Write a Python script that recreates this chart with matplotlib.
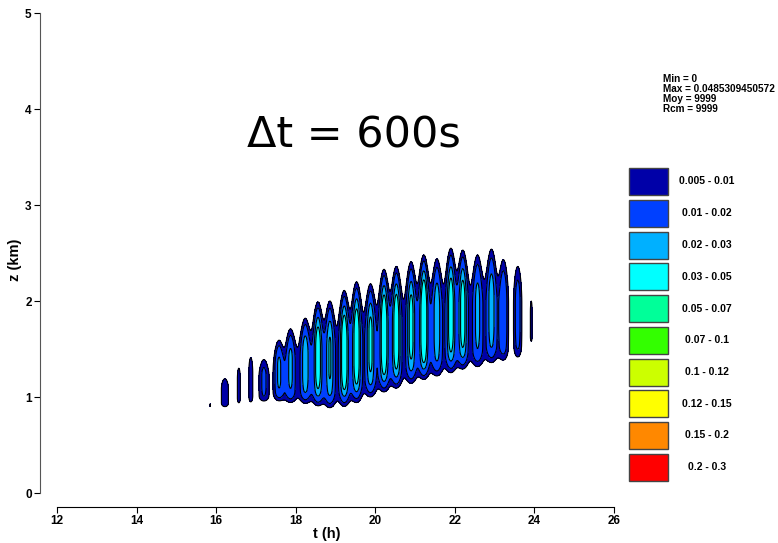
import numpy as np
import matplotlib
matplotlib.use('Agg')
import matplotlib.pyplot as plt
from matplotlib.patches import Rectangle

# Pulses: centre time (h), visible bottom / top of the
# column (km), narrow core peak, broad skirt level that joins the columns,
# and skirt half-width in time (h)
pulse_t = [15.85, 16.22, 16.57, 16.87, 17.20, 17.58, 17.87, 18.24, 18.56, 18.86,
           19.22, 19.53, 19.88, 20.22, 20.53, 20.90, 21.22, 21.55, 21.90, 22.20,
           22.57, 22.92, 23.22, 23.58, 23.92]
pulse_bot = [0.90, 0.90, 0.94, 0.95, 0.95, 0.95, 0.93, 0.92, 0.89, 0.87,
             0.88, 0.92, 0.98, 1.03, 1.07, 1.12, 1.16, 1.20, 1.23, 1.27,
             1.30, 1.34, 1.37, 1.40, 1.58]
pulse_top = [0.93, 1.19, 1.30, 1.41, 1.39, 1.59, 1.71, 1.82, 1.99, 2.00,
             2.11, 2.20, 2.18, 2.33, 2.36, 2.41, 2.48, 2.44, 2.55, 2.53,
             2.48, 2.54, 2.43, 2.36, 2.00]
pulse_core = [0.0, 0.0, 0.0, 0.0, 0.004, 0.011, 0.011, 0.0145, 0.0265, 0.0175,
              0.0315, 0.0295, 0.0205, 0.0325, 0.0285, 0.0225, 0.035, 0.0145, 0.0265, 0.0245,
              0.0105, 0.0135, 0.007, 0.005, 0.0]
pulse_skirt = [0.0055, 0.0095, 0.0085, 0.0095, 0.008, 0.011, 0.012, 0.0135, 0.0135, 0.0135,
               0.0135, 0.0135, 0.0135, 0.0135, 0.0135, 0.0135, 0.0135, 0.0135, 0.0135, 0.0135,
               0.0135, 0.0135, 0.011, 0.009, 0.0075]
pulse_w = [0.02, 0.11, 0.05, 0.06, 0.16, 0.14, 0.16, 0.16, 0.16, 0.16,
           0.16, 0.16, 0.16, 0.16, 0.16, 0.16, 0.16, 0.16, 0.16, 0.16,
           0.16, 0.16, 0.13, 0.11, 0.035]

levels = [0.005, 0.01, 0.02, 0.03, 0.05, 0.07, 0.1, 0.12, 0.15, 0.2, 0.3]
level_colors = ['#0000a8', '#0040ff', '#00b0ff', '#00ffff', '#00ff99',
                '#33ff00', '#ccff00', '#ffff00', '#ff8800', '#ff0000']
level_labels = ['0.005 - 0.01', '0.01 - 0.02', '0.02 - 0.03', '0.03 - 0.05', '0.05 - 0.07',
                '0.07 - 0.1', '0.1 - 0.12', '0.12 - 0.15', '0.15 - 0.2', '0.2 - 0.3']
stats = ['Min = 0', 'Max = 0.0485309450572', 'Moy = 9999', 'Rcm = 9999']

RAMP_BOT, RAMP_TOP = 0.2, 0.45


def ramp(x):
    x = np.clip(x, 0, 1)
    return 3 * x ** 2 - 2 * x ** 3


def ramp_inv(r):
    return 0.5 - np.sin(np.arcsin(1 - 2 * r) / 3)


# build the field from the pulses
t = np.linspace(15.5, 24.3, 1100)
z = np.linspace(0.5, 2.9, 700)
T, Z = np.meshgrid(t, z)
F = np.zeros_like(T)
for tc, b, tp, a, s, w in zip(pulse_t, pulse_bot, pulse_top, pulse_core, pulse_skirt, pulse_w):
    # scale the column so that its outer contour sits at the read bottom / top
    x = ramp_inv(min(levels[0] / (a + s), 0.999))
    ub, ut = RAMP_BOT * x, 1 - RAMP_TOP * x
    H = (tp - b) / (ut - ub)
    zb = b - ub * H
    # the column gets a bit lower away from its centre -> rounded, pointed tops
    hfac = 0.88 + 0.12 * np.exp(-((T - tc) / 0.13) ** 2)
    u = (Z - zb) / (H * hfac)
    v_skirt = ramp(u / RAMP_BOT) * ramp((1 - u) / RAMP_TOP)
    v_core = ramp(u / 0.35) * ramp((1 - u) / RAMP_TOP)
    F += s * np.exp(-((T - tc) / w) ** 2) * v_skirt
    F += a * np.exp(-((T - tc) / 0.09) ** 2) * v_core

bold = {'family': ['Liberation Sans Narrow', 'Liberation Sans'], 'weight': 'bold'}

fig = plt.figure(figsize=(7.78, 5.43), dpi=100)
ax = fig.add_axes([40 / 778, 36 / 543, 574 / 778, 494 / 543])
ax.contourf(T, Z, F, levels=levels, colors=level_colors)
ax.contour(T, Z, F, levels=levels, colors='black', linewidths=0.8)

ax.set_xlim(12 - 17 / 39.79, 26)
ax.set_ylim(-14 / 96, 5)
ax.spines['top'].set_visible(False)
ax.spines['right'].set_visible(False)
ax.spines['left'].set_bounds(0, 5)
ax.spines['bottom'].set_bounds(12, 26)
ax.spines['left'].set_color('#555555')
ax.set_xticks(range(12, 27, 2))
ax.set_yticks(range(0, 6))
ax.tick_params(length=4, width=0.8, pad=2)
for lab in ax.get_xticklabels() + ax.get_yticklabels():
    lab.set_fontproperties(bold)
    lab.set_fontsize(8.5)
ax.set_xlabel('t (h)', fontdict=bold, fontsize=10.5, labelpad=0)
ax.set_ylabel('z (km)', fontdict=bold, fontsize=10.5, labelpad=2)

fig.text(354 / 778, 1 - 135 / 543, '\u0394t = 600s', fontsize=31,
         ha='center', va='center')

# legend boxes
for i, (c, lab) in enumerate(zip(level_colors, level_labels)):
    y0 = 168 + i * 31.75
    fig.patches.append(Rectangle((629 / 778, 1 - (y0 + 27) / 543), 39 / 778, 27 / 543,
                                 transform=fig.transFigure, facecolor=c,
                                 edgecolor='#444444', linewidth=1))
    fig.text(707 / 778, 1 - (y0 + 13.5) / 543, lab, fontdict=bold, fontsize=7.5,
             ha='center', va='center')

for i, s in enumerate(stats):
    fig.text(663 / 778, 1 - (79 + i * 10) / 543, s, fontdict=bold, fontsize=7.2,
             ha='left', va='center')

fig.savefig('out.png', dpi=100)
